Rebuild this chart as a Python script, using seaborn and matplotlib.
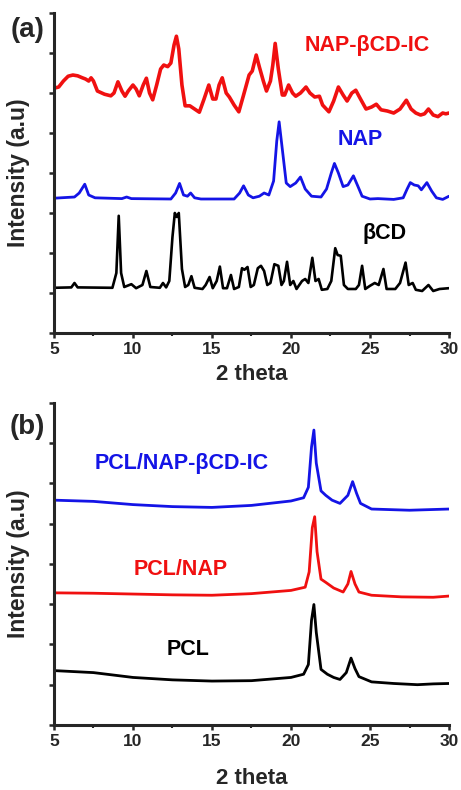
import matplotlib
matplotlib.use("Agg")
import matplotlib.pyplot as plt
import seaborn as sns
import pandas as pd
from matplotlib.ticker import MultipleLocator

# ---- panel (a) traces (2 theta, offset intensity) ----
bcd_x = [5.0, 6.1, 6.3, 6.5, 8.7, 8.95, 9.1, 9.25, 9.45, 9.9, 10.2, 10.6, 10.85, 11.1,
         11.7, 11.9, 12.1, 12.3, 12.5, 12.65, 12.78, 12.9, 13.1, 13.3, 13.5, 13.7, 13.9,
         14.4, 14.6, 14.85, 15.05, 15.3, 15.5, 15.7, 15.95, 16.2, 16.4, 16.7, 16.9, 17.05,
         17.25, 17.45, 17.65, 17.9, 18.1, 18.3, 18.5, 18.7, 18.95, 19.2, 19.4, 19.55, 19.75,
         19.95, 20.15, 20.35, 20.7, 20.9, 21.1, 21.35, 21.55, 21.75, 21.95, 22.3, 22.55,
         22.8, 22.95, 23.15, 23.35, 23.6, 24.1, 24.3, 24.5, 24.7, 25.0, 25.3, 25.55, 25.85,
         26.05, 26.6, 26.9, 27.25, 27.45, 27.7, 27.9, 28.3, 28.7, 29.0, 29.4, 30.0]
bcd_y = [1.13, 1.14, 1.25, 1.14, 1.13, 1.5, 2.93, 1.5, 1.15, 1.22, 1.12, 1.2, 1.55, 1.15,
         1.13, 1.25, 1.14, 1.3, 2.4, 3.0, 2.9, 3.0, 1.6, 1.15, 1.2, 1.42, 1.13,
         1.1, 1.2, 1.4, 1.12, 1.3, 1.66, 1.12, 1.12, 1.45, 1.1, 1.15, 1.62, 1.58,
         1.65, 1.15, 1.2, 1.62, 1.68, 1.55, 1.2, 1.25, 1.72, 1.68, 1.2, 1.3, 1.78,
         1.2, 1.3, 1.1, 1.3, 1.35, 1.25, 1.88, 1.3, 1.35, 1.08, 1.1, 1.3,
         2.12, 1.95, 1.93, 1.2, 1.1, 1.1, 1.2, 1.68, 1.1, 1.18, 1.25, 1.2, 1.6,
         1.1, 1.1, 1.25, 1.76, 1.2, 1.25, 1.08, 1.05, 1.2, 1.05, 1.1, 1.12]

nap_x = [5.0, 6.3, 6.6, 6.95, 7.2, 7.6, 9.3, 9.6, 9.9, 12.4, 12.7, 12.95, 13.2, 13.45,
         13.65, 13.9, 14.3, 16.4, 16.75, 17.0, 17.3, 17.6, 18.0, 18.3, 18.6, 18.9, 19.1,
         19.25, 19.45, 19.7, 19.95, 20.3, 20.6, 20.9, 21.3, 21.9, 22.25, 22.55, 22.75,
         23.0, 23.3, 23.6, 23.95, 24.2, 24.5, 25.0, 25.5, 26.5, 27.1, 27.35, 27.55, 27.8,
         28.05, 28.25, 28.6, 28.9, 29.2, 29.6, 30.0]
nap_y = [3.37, 3.4, 3.5, 3.72, 3.45, 3.38, 3.36, 3.4, 3.36, 3.35, 3.5, 3.74, 3.45, 3.42,
         3.5, 3.38, 3.35, 3.35, 3.5, 3.68, 3.45, 3.38, 3.42, 3.5, 3.45, 3.8, 4.8,
         5.28, 4.6, 3.75, 3.66, 3.75, 3.9, 3.6, 3.42, 3.4, 3.6, 4.0, 4.24,
         4.0, 3.66, 3.7, 3.93, 3.7, 3.42, 3.35, 3.36, 3.34, 3.38, 3.6, 3.76, 3.7,
         3.68, 3.58, 3.76, 3.55, 3.38, 3.34, 3.42]

ic_x = [5.0, 5.3, 5.6, 5.9, 6.2, 6.5, 6.8, 7.0, 7.2, 7.35, 7.5, 7.75, 8.2, 8.6, 8.8,
        9.05, 9.3, 9.5, 9.7, 10.0, 10.2, 10.4, 10.65, 10.85, 11.05, 11.25, 11.5, 11.75,
        11.95, 12.2, 12.4, 12.6, 12.75, 12.9, 13.1, 13.3, 13.6, 13.9, 14.2, 14.5, 14.8,
        15.05, 15.25, 15.45, 15.65, 15.9, 16.1, 16.4, 16.7, 17.0, 17.35, 17.55, 17.8,
        18.0, 18.25, 18.45, 18.7, 18.85, 19.0, 19.2, 19.45, 19.6, 19.85, 20.1, 20.3,
        20.6, 20.95, 21.2, 21.5, 21.8, 22.0, 22.4, 22.7, 23.0, 23.3, 23.55, 23.85, 24.1,
        24.4, 24.75, 25.1, 25.4, 25.7, 26.1, 26.5, 26.9, 27.3, 27.6, 27.9, 28.2, 28.45,
        28.7, 29.0, 29.3, 29.6, 29.8, 30.0]
ic_y = [6.12, 6.15, 6.3, 6.42, 6.45, 6.43, 6.38, 6.35, 6.3, 6.38, 6.3, 6.05, 5.97, 5.93, 6.0,
        6.28, 6.05, 5.92, 6.05, 6.2, 6.1, 5.93, 6.2, 6.37, 6.0, 5.83, 6.2, 6.6,
        6.7, 6.66, 6.75, 7.2, 7.42, 7.1, 6.2, 5.68, 5.68, 5.6, 5.52, 5.85, 6.2,
        5.85, 5.85, 6.2, 6.38, 6.0, 5.9, 5.7, 5.53, 5.95, 6.45, 6.55, 6.95,
        6.65, 6.3, 6.05, 6.3, 6.7, 7.24, 6.6, 5.95, 5.95, 6.2, 6.0, 5.92,
        6.0, 6.15, 6.0, 5.9, 5.92, 5.7, 5.53, 5.8, 6.15, 5.95, 5.8, 6.0, 6.07,
        5.85, 5.6, 5.65, 5.72, 5.58, 5.55, 5.5, 5.6, 5.82, 5.6, 5.5, 5.45, 5.48,
        5.6, 5.45, 5.41, 5.5, 5.48, 5.5]

# ---- panel (b) traces ----
pcl_x = [5.0, 7.5, 10.0, 12.5, 15.0, 17.5, 20.0, 20.8, 21.1, 21.3, 21.45, 21.6, 21.9,
         22.3, 22.7, 23.1, 23.5, 23.8, 24.05, 24.3, 25.1, 26.5, 28.0, 29.0, 30.0]
pcl_y = [1.35, 1.3, 1.18, 1.12, 1.09, 1.1, 1.18, 1.26, 1.5, 2.6, 2.99, 2.3, 1.38,
         1.26, 1.18, 1.13, 1.3, 1.66, 1.4, 1.2, 1.07, 1.03, 1.0, 1.02, 1.03]

pclnap_x = [5.0, 7.5, 10.0, 12.5, 15.0, 17.5, 20.0, 20.9, 21.15, 21.35, 21.5, 21.65,
            21.9, 22.2, 22.7, 23.3, 23.6, 23.8, 24.05, 24.3, 25.1, 27.0, 29.0, 30.0]
pclnap_y = [3.28, 3.27, 3.25, 3.23, 3.22, 3.26, 3.34, 3.42, 3.8, 4.9, 5.17, 4.3, 3.62,
            3.54, 3.4, 3.3, 3.5, 3.81, 3.5, 3.3, 3.22, 3.18, 3.17, 3.2]

pclic_x = [5.0, 7.5, 10.0, 12.5, 15.0, 17.5, 20.0, 20.8, 21.1, 21.3, 21.45, 21.6, 21.9,
           22.2, 22.6, 23.1, 23.6, 23.9, 24.15, 24.4, 25.1, 27.5, 30.0]
pclic_y = [5.58, 5.55, 5.47, 5.42, 5.4, 5.45, 5.56, 5.64, 5.9, 6.9, 7.32, 6.5, 5.81,
           5.7, 5.58, 5.5, 5.7, 6.04, 5.75, 5.5, 5.36, 5.33, 5.36]

sns.set_style("ticks")
plt.rcParams['font.family'] = ['Liberation Sans', 'DejaVu Sans']
plt.rcParams['font.weight'] = 'bold'

fig = plt.figure(figsize=(4.61, 7.90), dpi=100)
ax_a = fig.add_axes([0.117, 0.5785, 0.857, 0.405])
ax_b = fig.add_axes([0.117, 0.0823, 0.857, 0.408])

RED = '#f01010'
BLUE = '#1414e6'

panels = [
    (ax_a, [(bcd_x, bcd_y, 'black', 1.9), (nap_x, nap_y, BLUE, 2.0), (ic_x, ic_y, RED, 2.6)], -0.098),
    (ax_b, [(pcl_x, pcl_y, 'black', 2.0), (pclnap_x, pclnap_y, RED, 2.0),
            (pclic_x, pclic_y, BLUE, 2.0)], -0.135),
]
for ax, traces, xlab_y in panels:
    for xs, ys, col, lw in traces:
        df = pd.DataFrame({'x': xs, 'y': ys})
        sns.lineplot(data=df, x='x', y='y', ax=ax, color=col, lw=lw,
                     sort=False, estimator=None)
    ax.set_xlim(5, 30)
    ax.set_ylim(0, 8)
    ax.xaxis.set_major_locator(MultipleLocator(5))
    ax.xaxis.set_minor_locator(MultipleLocator(2.5))
    ax.yaxis.set_major_locator(MultipleLocator(1))
    ax.set_yticklabels([])
    ax.tick_params(axis='both', which='major', direction='out', length=3.5, width=1.8,
                   labelsize=12.5, pad=3)
    ax.tick_params(axis='x', which='minor', direction='out', length=2.5, width=1.5)
    for lab in ax.get_xticklabels():
        lab.set_fontweight('bold')
    ax.spines['left'].set_linewidth(2.2)
    ax.spines['bottom'].set_linewidth(2.2)
    sns.despine(ax=ax)
    ax.set_xlabel('2 theta', fontsize=16, fontweight='bold')
    ax.set_ylabel('Intensity (a.u)', fontsize=16.5, fontweight='bold')
    ax.xaxis.set_label_coords(0.5, xlab_y)
    ax.yaxis.set_label_coords(-0.06, 0.5)

ax_a.text(-0.068, 0.947, '(a)', transform=ax_a.transAxes, fontsize=20,
          fontweight='bold', ha='center', va='center')
ax_a.text(24.84, 7.2, 'NAP-βCD-IC', color=RED, fontsize=15.5, fontweight='bold',
          ha='center', va='center')
ax_a.text(24.37, 4.83, 'NAP', color=BLUE, fontsize=15.5, fontweight='bold',
          ha='center', va='center')
ax_a.text(25.95, 2.48, 'βCD', color='black', fontsize=15.5, fontweight='bold',
          ha='center', va='center')

ax_b.text(-0.068, 0.925, '(b)', transform=ax_b.transAxes, fontsize=20,
          fontweight='bold', ha='center', va='center')
ax_b.text(13.07, 6.49, 'PCL/NAP-βCD-IC', color=BLUE, fontsize=15.5, fontweight='bold',
          ha='center', va='center')
ax_b.text(13.0, 3.86, 'PCL/NAP', color=RED, fontsize=15.5, fontweight='bold',
          ha='center', va='center')
ax_b.text(13.5, 1.87, 'PCL', color='black', fontsize=15.5, fontweight='bold',
          ha='center', va='center')

fig.savefig('out.png', dpi=100)
